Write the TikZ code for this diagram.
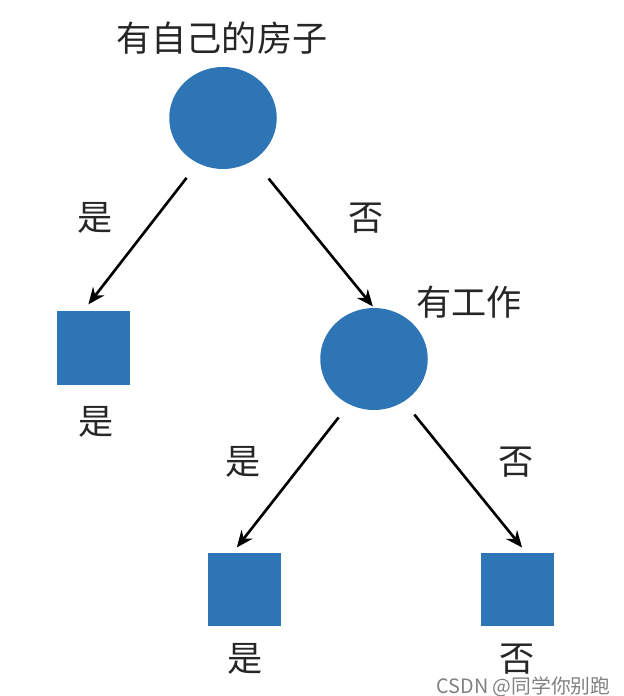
\documentclass[tikz,border=0pt]{standalone}
\usepackage{fontspec}
\usepackage{xcolor}
\usepackage{tikz}
\usetikzlibrary{shapes.geometric, arrows.meta, positioning}
\newfontfamily\cjk{Noto Sans CJK SC}
\definecolor{nodeblue}{RGB}{46,117,182}
\tikzset{
  decision/.style={ellipse, fill=nodeblue, minimum width=4.3cm,
                   minimum height=4.08cm, inner sep=0pt},
  leaf/.style={rectangle, fill=nodeblue, minimum width=2.92cm,
               minimum height=2.92cm, inner sep=0pt},
  arrow/.style={-{Stealth[length=19pt, width=16pt]}, draw=black,
                line width=3pt},
  lbl/.style={font=\cjk\fontsize{40}{46}\selectfont, text=black!85,
              inner sep=0pt},
}
\begin{document}
\begin{tikzpicture}[
  mark text/.style={font=\cjk\fontsize{22.5}{26}\selectfont, text=black!50,
                    inner sep=0pt}
]
  \useasboundingbox (-8.92,4.72) rectangle (16.0,-23.12);

  % decision nodes
  \node[decision] (root) at (0,0) {};
  \node[decision] (work) at (6.04,-9.64) {};
  \node[lbl] (rootlbl) at (-0.04,3.2) {有自己的房子};
  \node[lbl] (worklbl) at (9.84,-7.36) {有工作};

  % leaves
  \node[leaf] (l1) at (-5.16,-9.2) {};
  \node[leaf] (l2) at ( 0.84,-18.84) {};
  \node[leaf] (l3) at (11.76,-18.84) {};
  \node[lbl] (l1lbl) at (-5.08,-12.16) {是};
  \node[lbl] (l2lbl) at ( 0.88,-21.64) {是};
  \node[lbl] (l3lbl) at (11.76,-21.64) {否};

  \draw[arrow, shorten <=21pt, shorten >=10pt]
    (root.241) -- ([xshift=-0.44cm]l1.north);
  \draw[arrow, shorten <=27pt, shorten >=2pt]
    (root.306) -- (work.north);
  \draw[arrow, shorten <=19pt, shorten >=7pt]
    (work.241) -- ([xshift=-0.44cm]l2.north);
  \draw[arrow, shorten <=19pt, shorten >=7pt]
    (work.305) -- ([xshift=0.36cm]l3.north);

  \node[lbl] (yes1) at (-5.12,-4.0) {是};
  \node[lbl] (no1)  at ( 5.72,-4.0) {否};
  \node[lbl] (yes2) at ( 0.8,-13.76) {是};
  \node[lbl] (no2)  at (11.72,-13.76) {否};

  \node[mark text] (mark) at (12.02,-22.74) {CSDN @同学你别跑};
\end{tikzpicture}
\end{document}
